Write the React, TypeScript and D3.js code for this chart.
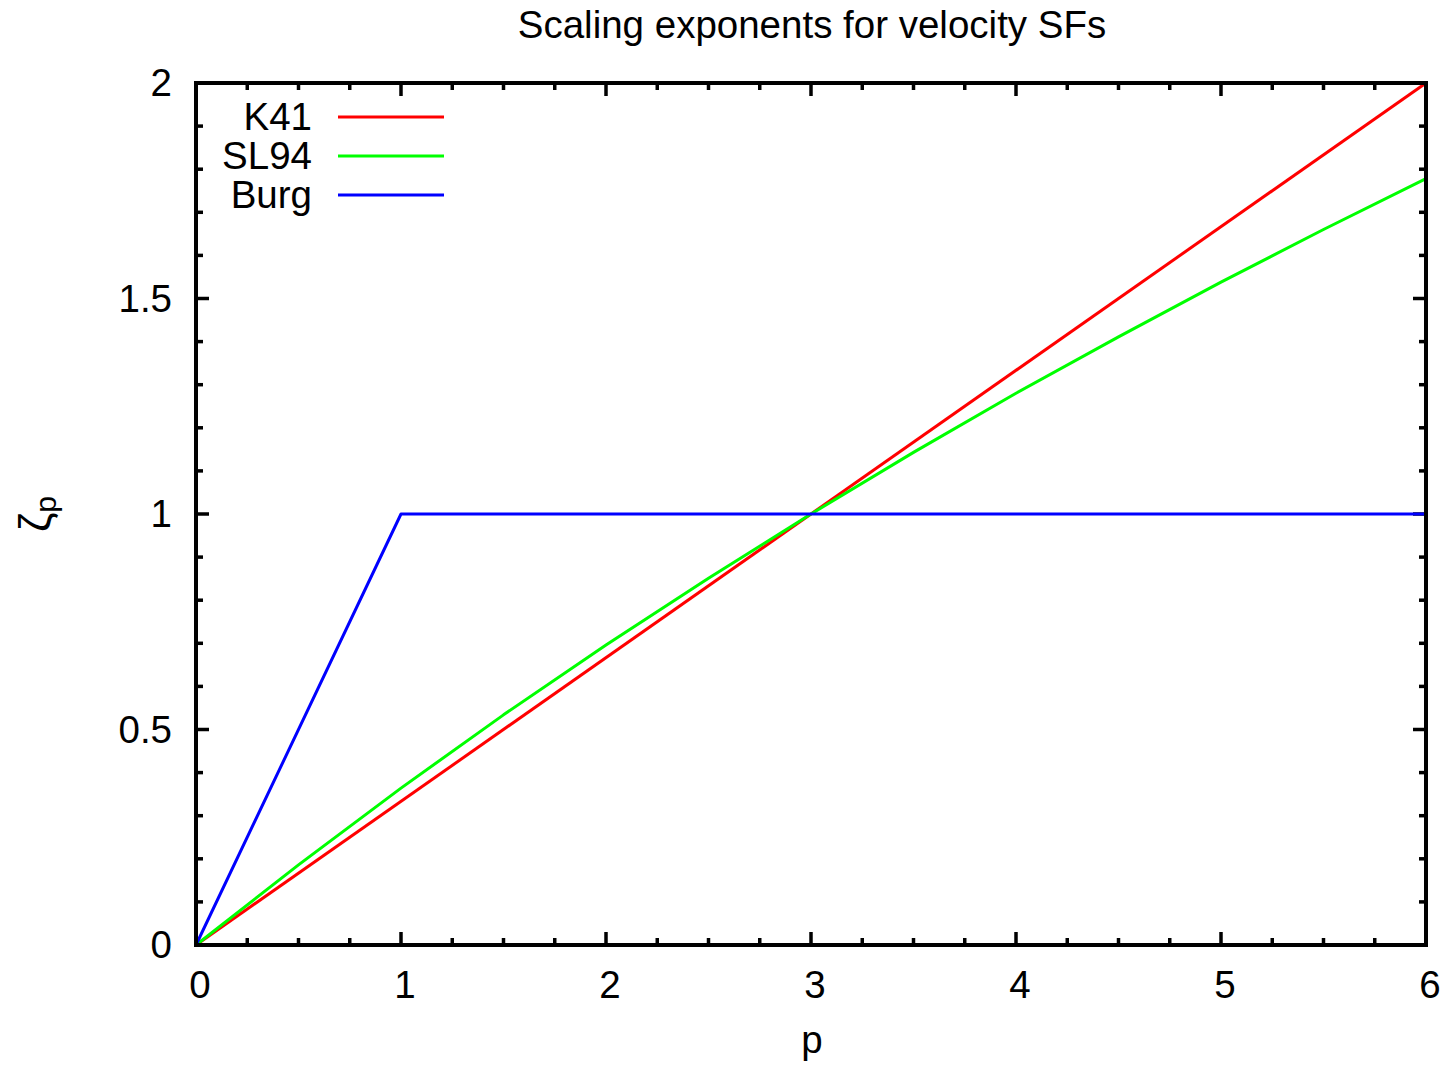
import React, { useEffect, useRef } from 'react';
import * as d3 from 'd3';

const width = 1445;
const height = 1065;
const margin = { top: 83, right: 19, bottom: 120, left: 196 };

const title = 'Scaling exponents for velocity SFs';
const xTicks = [0, 1, 2, 3, 4, 5, 6];
const yTicks = [0, 0.5, 1, 1.5, 2];
const yTickLabels = ['0', '0.5', '1', '1.5', '2'];

// values
const k41P = [0, 6];
const k41Zeta = [0, 2];
const sl94P = [0, 0.5, 1, 1.5, 2, 2.5, 3, 3.5, 4, 4.5, 5, 5.5, 6];
const sl94Zeta = [0, 0.186, 0.364, 0.534, 0.696, 0.851, 1.0, 1.143, 1.28, 1.411, 1.538, 1.66, 1.778];
const burgP = [0, 1, 6];
const burgZeta = [0, 1, 1];

const series = [
  { name: 'K41', color: '#ff0000', p: k41P, zeta: k41Zeta },
  { name: 'SL94', color: '#00ff00', p: sl94P, zeta: sl94Zeta },
  { name: 'Burg', color: '#0000ff', p: burgP, zeta: burgZeta },
];

const font = '"Liberation Sans", Arial, sans-serif';
const fs = 38.5;

export default function App() {
  const ref = useRef<SVGSVGElement>(null);

  useEffect(() => {
    const svg = d3.select(ref.current);
    svg.selectAll('*').remove();

    const x = d3.scaleLinear().domain([0, 6]).range([margin.left, width - margin.right]);
    const y = d3.scaleLinear().domain([0, 2]).range([height - margin.bottom, margin.top]);
    const x0 = x(0), x1 = x(6), y0 = y(0), y1 = y(2);

    svg.append('rect').attr('width', width).attr('height', height).attr('fill', 'white');

    // ticks (gnuplot style, inside on all four sides)
    const ticks = svg.append('g').attr('stroke', 'black').attr('stroke-width', 3.5);
    const xMinor = d3.range(0, 6.001, 0.25);
    xMinor.forEach(v => {
      const major = Math.abs(v - Math.round(v)) < 1e-6;
      const len = major ? 13 : 7;
      ticks.append('line').attr('x1', x(v)).attr('x2', x(v)).attr('y1', y0).attr('y2', y0 - len);
      ticks.append('line').attr('x1', x(v)).attr('x2', x(v)).attr('y1', y1).attr('y2', y1 + len);
    });
    const yMinor = d3.range(0, 2.0001, 0.1);
    yMinor.forEach(v => {
      const major = Math.abs(v * 2 - Math.round(v * 2)) < 1e-6;
      const len = major ? 13 : 7;
      ticks.append('line').attr('y1', y(v)).attr('y2', y(v)).attr('x1', x0).attr('x2', x0 + len);
      ticks.append('line').attr('y1', y(v)).attr('y2', y(v)).attr('x1', x1).attr('x2', x1 - len);
    });

    // data lines
    const line = d3.line<[number, number]>().x(d => x(d[0])).y(d => y(d[1]));
    series.forEach(s => {
      const pts = s.p.map((p, i) => [p, s.zeta[i]] as [number, number]);
      svg.append('path').datum(pts).attr('d', line).attr('fill', 'none')
        .attr('stroke', s.color).attr('stroke-width', 3).attr('stroke-linejoin', 'round');
    });

    // frame
    svg.append('rect').attr('x', x0).attr('y', y1).attr('width', x1 - x0).attr('height', y0 - y1)
      .attr('fill', 'none').attr('stroke', 'black').attr('stroke-width', 4);

    // tick labels
    const labels = svg.append('g').attr('font-family', font).attr('font-size', fs).attr('fill', 'black');
    xTicks.forEach(v => {
      labels.append('text').attr('x', x(v) + 4).attr('y', 998).attr('text-anchor', 'middle').text(String(v));
    });
    yTicks.forEach((v, i) => {
      labels.append('text').attr('x', 172).attr('y', y(v) + 13).attr('text-anchor', 'end').text(yTickLabels[i]);
    });

    // title & axis labels
    svg.append('text').attr('x', 812).attr('y', 38).attr('text-anchor', 'middle')
      .attr('font-family', font).attr('font-size', fs).text(title);
    svg.append('text').attr('x', 812).attr('y', 1053).attr('text-anchor', 'middle')
      .attr('font-family', font).attr('font-size', fs).text('p');
    const yl = svg.append('text').attr('transform', 'translate(50,514) rotate(-90)')
      .attr('text-anchor', 'middle').attr('font-family', font).attr('font-size', 44);
    yl.append('tspan').text('ζ');
    yl.append('tspan').attr('dy', 6).attr('font-size', 30).text('p');

    // legend
    series.forEach((s, i) => {
      const ly = 117 + i * 39;
      svg.append('text').attr('x', 312).attr('y', ly + 13).attr('text-anchor', 'end')
        .attr('font-family', font).attr('font-size', fs).text(s.name);
      svg.append('line').attr('x1', 338).attr('x2', 444).attr('y1', ly).attr('y2', ly)
        .attr('stroke', s.color).attr('stroke-width', 3);
    });
  }, []);

  return <svg ref={ref} width={width} height={height} style={{ display: 'block', position: 'absolute', left: 0, top: 0 }} />;
}
